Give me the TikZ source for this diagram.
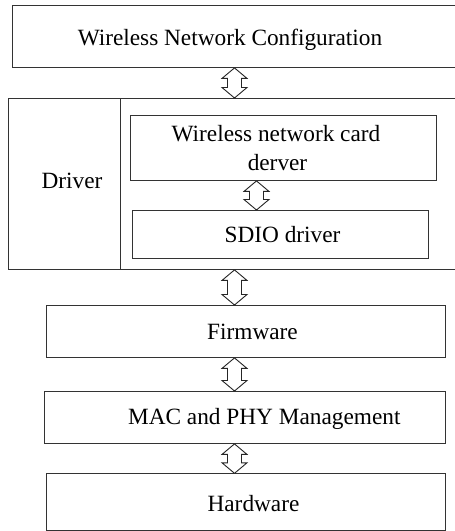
\documentclass[tikz,border=0pt]{standalone}
\usepackage{fontspec}
\setmainfont{Liberation Serif}
\newfontfamily\tnrfont{Liberation Serif}
\usetikzlibrary{calc}
\tikzset{
  box/.style={draw=black!80, line width=0.9pt, inner sep=0pt, anchor=north west, fill=none},
  lbl/.style={inner sep=0pt, anchor=base, font=\tnrfont\fontsize{23.3}{28}\selectfont, text=black},
  harrow/.style={draw=black!85, line width=0.9pt, fill=white, line join=miter},
}
\newcommand\hollowpair[3]{%
  \draw[harrow] let \p1=(#1.south -| #3), \p2=(#2.north -| #3) in
    (\x1,\y1) -- (\x1+12.5pt,\y1-10.5pt) -- (\x1+7pt,\y1-10.5pt) -- (\x1+7pt,\y2+10.5pt)
    -- (\x1+12.5pt,\y2+10.5pt) -- (\x1,\y2) -- (\x1-12.5pt,\y2+10.5pt) -- (\x1-7pt,\y2+10.5pt)
    -- (\x1-7pt,\y1-10.5pt) -- (\x1-12.5pt,\y1-10.5pt) -- cycle;}
\begin{document}
\begin{tikzpicture}[x=1pt,y=-1pt]
\clip (0,0) rectangle (455,531);
\fill[white] (0,0) rectangle (455,531);
% boxes
\node[box, minimum width=458pt, minimum height=62pt] (cfg) at (12,5) {};
\node[box, minimum width=462pt, minimum height=171pt] (drv) at (8,98) {};
\node[box, minimum width=112pt, minimum height=171pt] (drvl) at (8,98) {};
\node[box, minimum width=306pt, minimum height=65pt] (card) at (130,115) {};
\node[box, minimum width=296.3pt, minimum height=47.5pt] (sdio) at (131.7,210) {};
\node[box, minimum width=399.3pt, minimum height=52pt] (fw) at (45.7,305) {};
\node[box, minimum width=400.7pt, minimum height=52pt] (mac) at (44.3,391) {};
\node[box, minimum width=399.3pt, minimum height=57pt] (hw) at (45.7,473.3) {};
% labels
\node[lbl] (t-cfg) at (230,45) {Wireless Network Configuration};
\node[lbl] (t-drv) at (72,188.3) {Driver};
\node[lbl] (t-card1) at (276,141.5) {Wireless network card};
\node[lbl] (t-card2) at (277.5,170) {derver};
\node[lbl] (t-sdio) at (282.5,242) {SDIO driver};
\node[lbl] (t-fw) at (252.5,339.3) {Firmware};
\node[lbl] (t-mac) at (264.3,424) {MAC and PHY Management};
\node[lbl] (t-hw) at (253.5,511.7) {Hardware};
% arrow axes
\coordinate (ax) at (234.5,0);
\coordinate (ax2) at (256.5,0);
\hollowpair{cfg}{drv}{ax}
\hollowpair{card}{sdio}{ax2}
\hollowpair{drv}{fw}{ax}
\hollowpair{fw}{mac}{ax}
\hollowpair{mac}{hw}{ax}
\end{tikzpicture}
\end{document}
